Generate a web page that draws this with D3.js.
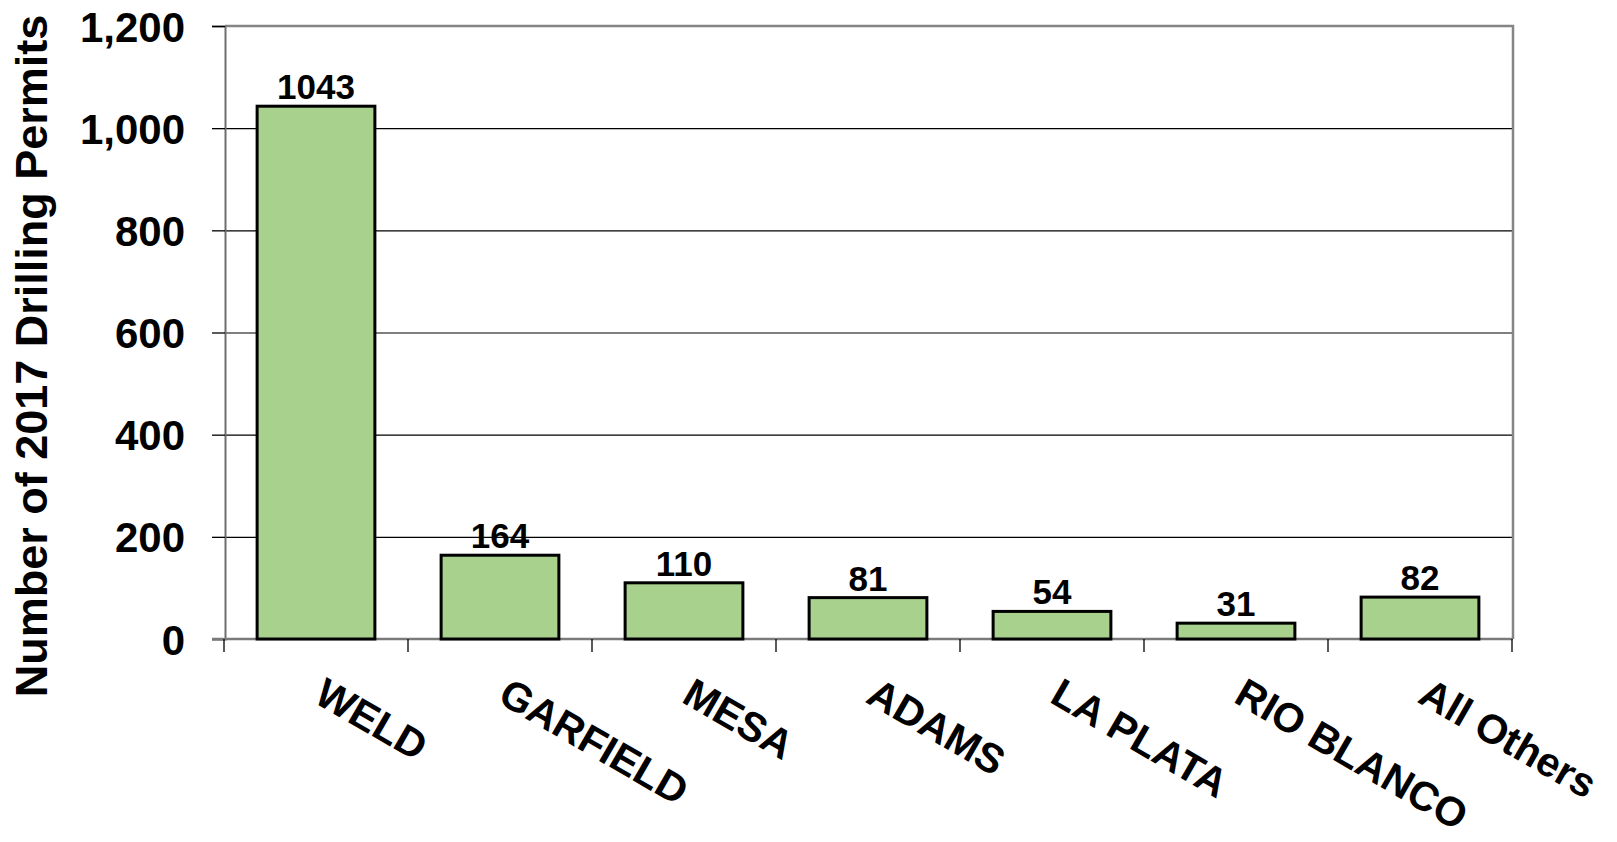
<!DOCTYPE html>
<html>
<head>
<meta charset="utf-8">
<script src="https://cdn.jsdelivr.net/npm/d3@7"></script>
<style>
  html, body { margin: 0; padding: 0; background: #ffffff; }
  svg { display: block; }
  text { font-family: "Liberation Sans", Arial, sans-serif; font-weight: bold; fill: #000; }
</style>
</head>
<body>
<svg id="chart" width="1617" height="842"></svg>
<script>
// 2017 drilling permits by county
const counties = ["WELD", "GARFIELD", "MESA", "ADAMS", "LA PLATA", "RIO BLANCO", "All Others"];
const permits = [1043, 164, 110, 81, 54, 31, 82];
const yTicks = [0, 200, 400, 600, 800, 1000, 1200];
const yTitle = "Number of 2017 Drilling Permits";

const width = 1617, height = 842;
const plot = { left: 225, right: 1513, top: 26, bottom: 639 };

const svg = d3.select("#chart");
svg.append("rect").attr("width", width).attr("height", height).attr("fill", "#fff");

const x = d3.scaleBand()
  .domain(counties)
  .range([plot.left - 1, plot.right - 1])
  .paddingInner(0.36)
  .paddingOuter(0.18);

const y = d3.scaleLinear()
  .domain([0, 1200])
  .range([plot.bottom, plot.top]);

// horizontal gridlines
svg.append("g")
  .selectAll("line")
  .data(yTicks.filter(t => t > 0 && t < 1200))
  .join("line")
  .attr("x1", plot.left).attr("x2", plot.right)
  .attr("y1", d => y(d) + 0.5).attr("y2", d => y(d) + 0.5)
  .attr("stroke", "#000").attr("stroke-width", 1.2);

// plot frame: top and right edges
svg.append("path")
  .attr("d", `M${plot.left},${plot.top} H${plot.right} V${plot.bottom}`)
  .attr("fill", "none").attr("stroke", "#858585").attr("stroke-width", 2.5);

// y axis
const yAxis = d3.axisLeft(y).tickValues(yTicks).tickSize(13).tickPadding(27)
  .tickFormat(d3.format(","));
const gy = svg.append("g").attr("transform", `translate(${plot.left},0)`).call(yAxis);
gy.select(".domain").attr("stroke", "#6e6e6e").attr("stroke-width", 2);
gy.selectAll(".tick line").attr("stroke", "#000").attr("stroke-width", 1.3);
gy.selectAll(".tick text")
  .attr("font-size", 42).attr("font-family", "'Liberation Sans', Arial, sans-serif")
  .attr("font-weight", "bold").attr("fill", "#000").attr("dy", "0.36em");

// x axis baseline and category ticks
const boundaries = d3.range(counties.length + 1).map(i => plot.left - 1 + i * x.step());
svg.append("line")
  .attr("x1", plot.left - 13).attr("x2", plot.right)
  .attr("y1", plot.bottom).attr("y2", plot.bottom)
  .attr("stroke", "#7a7a7a").attr("stroke-width", 2.5);
svg.append("g")
  .selectAll("line")
  .data(boundaries)
  .join("line")
  .attr("x1", d => d).attr("x2", d => d)
  .attr("y1", plot.bottom).attr("y2", plot.bottom + 13)
  .attr("stroke", "#000").attr("stroke-width", 1.3);

// bars
svg.append("g")
  .selectAll("rect")
  .data(counties.map((c, i) => ({ c, v: permits[i] })))
  .join("rect")
  .attr("x", d => x(d.c))
  .attr("y", d => y(d.v))
  .attr("width", x.bandwidth())
  .attr("height", d => y(0) - y(d.v))
  .attr("fill", "#a9d18e")
  .attr("stroke", "#000")
  .attr("stroke-width", 3);

// value labels
svg.append("g")
  .selectAll("text")
  .data(counties.map((c, i) => ({ c, v: permits[i] })))
  .join("text")
  .attr("x", d => x(d.c) + x.bandwidth() / 2)
  .attr("y", d => y(d.v) - 7)
  .attr("text-anchor", "middle")
  .attr("font-size", 35)
  .text(d => d.v);

// rotated category labels
svg.append("g")
  .selectAll("text")
  .data(counties)
  .join("text")
  .attr("transform", d => `translate(${x(d) + x.bandwidth() / 2 + 11},${plot.bottom + 37}) rotate(30)`)
  .attr("dy", "0.72em")
  .attr("text-anchor", "start")
  .attr("font-size", 41)
  .text(d => d);

// y axis title
svg.append("text")
  .attr("transform", `translate(47,356) rotate(-90)`)
  .attr("text-anchor", "middle")
  .attr("font-size", 45)
  .text(yTitle);
</script>
</body>
</html>
